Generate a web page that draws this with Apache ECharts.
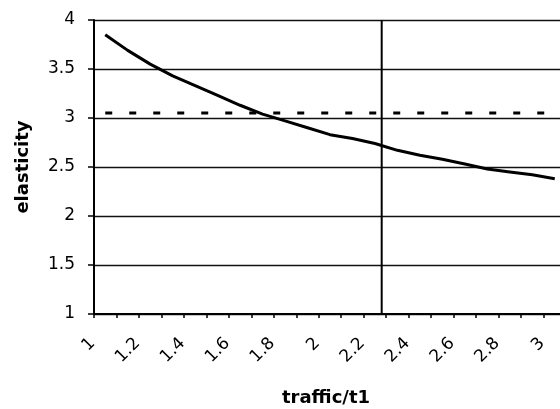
<!DOCTYPE html>
<html>
<head>
<meta charset="utf-8">
<script src="https://cdn.jsdelivr.net/npm/echarts@6/dist/echarts.min.js"></script>
<style>
html, body { margin: 0; padding: 0; background: #fff; }
#chart { width: 560px; height: 409px; }
</style>
</head>
<body>
<div id="chart"></div>
<script>
// Data
const categories = ['1', '1.1', '1.2', '1.3', '1.4', '1.5', '1.6', '1.7', '1.8', '1.9', '2',
                    '2.1', '2.2', '2.3', '2.4', '2.5', '2.6', '2.7', '2.8', '2.9', '3'];
const elasticity = [3.85, 3.69, 3.55, 3.43, 3.33, 3.23, 3.13, 3.04, 2.97, 2.90, 2.83,
                    2.79, 2.74, 2.67, 2.62, 2.58, 2.53, 2.48, 2.45, 2.42, 2.38];
const reference = [3.05, 3.05, 3.05, 3.05, 3.05, 3.05, 3.05, 3.05, 3.05, 3.05, 3.05,
                   3.05, 3.05, 3.05, 3.05, 3.05, 3.05, 3.05, 3.05, 3.05, 3.05];
const markerX = [2.23];
const markerY = [1, 4];
const yTicks = [1, 1.5, 2, 2.5, 3, 3.5, 4];

const chart = echarts.init(document.getElementById('chart'), null, { renderer: 'canvas' });

const tickFont = 'DejaVu Sans';
const option = {
  animation: false,
  backgroundColor: '#ffffff',
  grid: { left: 94, top: 20, width: 472, height: 294, containLabel: false, outerBoundsMode: 'none' },
  xAxis: [
    {
      type: 'category',
      data: categories,
      boundaryGap: true,
      name: 'traffic/t1',
      nameLocation: 'middle',
      nameGap: 75,
      nameTextStyle: { fontFamily: tickFont, fontWeight: 'bold', fontSize: 18, color: '#000', padding: [0, 8, 0, 0] },
      axisLine: { show: true, onZero: false, lineStyle: { color: '#000', width: 2 } },
      axisTick: { show: true, interval: 0, length: 4, lineStyle: { color: '#000', width: 1.5 } },
      axisLabel: {
        interval: 1,
        rotate: 45,
        margin: 14,
        padding: [0, 18, 0, 0],
        fontFamily: tickFont,
        fontSize: 17,
        color: '#000'
      },
      splitLine: { show: false }
    },
    {
      type: 'value',
      min: 0.95,
      max: 3.05,
      show: false,
      position: 'bottom'
    }
  ],
  yAxis: {
    type: 'value',
    min: yTicks[0],
    max: yTicks[yTicks.length - 1],
    interval: 0.5,
    name: 'elasticity',
    nameLocation: 'middle',
    nameGap: 62,
    nameTextStyle: { fontFamily: tickFont, fontWeight: 'bold', fontSize: 18, color: '#000' },
    axisLine: { show: true, lineStyle: { color: '#000', width: 2 } },
    axisTick: { show: true, length: 6, lineStyle: { color: '#000', width: 1.5 } },
    axisLabel: { margin: 19, fontFamily: tickFont, fontSize: 17, color: '#000' },
    splitLine: { show: true, lineStyle: { color: '#111', width: 1.3 } }
  },
  series: [
    {
      type: 'line',
      data: elasticity,
      xAxisIndex: 0,
      symbol: 'none',
      smooth: false,
      lineStyle: { color: '#000', width: 3 },
      z: 5
    },
    {
      type: 'line',
      data: reference,
      xAxisIndex: 0,
      symbol: 'none',
      lineStyle: { color: '#000', width: 3, type: [7, 17] },
      z: 4
    },
    {
      type: 'line',
      xAxisIndex: 1,
      data: markerY.map(v => [markerX[0], v]),
      symbol: 'none',
      lineStyle: { color: '#000', width: 2 },
      z: 3
    }
  ]
};
chart.setOption(option);
</script>
</body>
</html>
